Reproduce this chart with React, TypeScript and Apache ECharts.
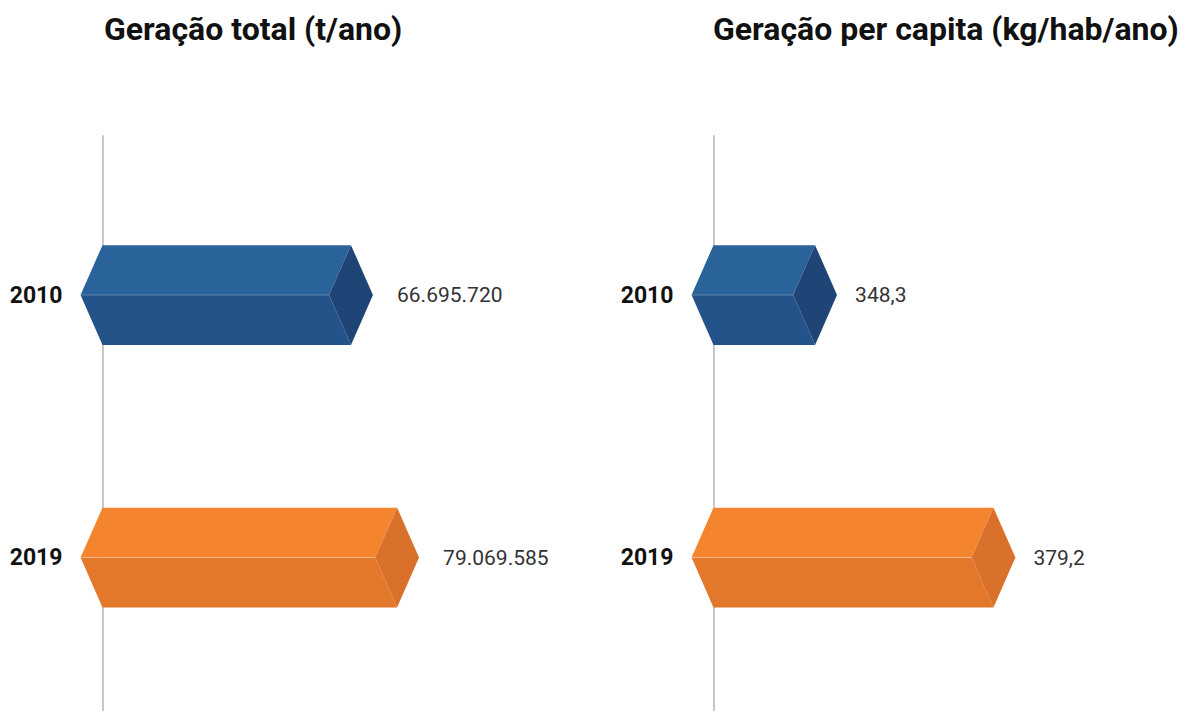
import React, { useEffect, useRef } from 'react';
import * as echarts from 'echarts';

const years = ['2010', '2019'];
const totalValues = [66695720, 79069585];
const perCapitaValues = [348.3, 379.2];
const titles = ['Geração total (t/ano)', 'Geração per capita (kg/hab/ano)'];

const FONT = 'Roboto, "Noto Sans", sans-serif';
const palette = [
  { top: '#29639a', bottom: '#245389', side: '#1f4577' },
  { top: '#f5842f', bottom: '#e3772a', side: '#d9712b' },
];

function fmtTotal(v: number): string {
  return String(Math.round(v)).replace(/\B(?=(\d{3})+(?!\d))/g, '.');
}
function fmtPer(v: number): string {
  return v.toFixed(1).replace('.', ',');
}

function makeRenderItem(labelFmt: (v: number) => string, labelGap: number) {
  return (params: any, api: any) => {
    const val = api.value(0);
    const idx = api.value(1);
    const x0 = params.coordSys.x;
    const p = api.coord([val, idx]);
    const xe = p[0];
    const ym = p[1];
    const band = api.size([0, 1])[1];
    const h = band * 0.19;
    const d = h * 0.44;
    const c = palette[params.dataIndex];
    return {
      type: 'group',
      children: [
        {
          type: 'polygon',
          shape: { points: [[x0, ym - h], [xe, ym - h], [xe - d, ym], [x0 - d, ym]] },
          style: { fill: c.top },
        },
        {
          type: 'polygon',
          shape: { points: [[x0 - d, ym], [xe - d, ym], [xe, ym + h], [x0, ym + h]] },
          style: { fill: c.bottom },
        },
        {
          type: 'polygon',
          shape: { points: [[xe, ym - h], [xe + d, ym], [xe, ym + h], [xe - d, ym]] },
          style: { fill: c.side },
        },
        {
          type: 'line',
          shape: { x1: x0 - d, y1: ym, x2: xe - d, y2: ym },
          style: { stroke: 'rgba(255,255,255,0.25)', lineWidth: 1 },
        },
        {
          type: 'text',
          x: xe + labelGap,
          y: ym,
          style: {
            text: labelFmt(val),
            fill: '#333333',
            fontSize: 21,
            fontFamily: FONT,
            align: 'left',
            verticalAlign: 'middle',
          },
        },
      ],
    };
  };
}

const yearAxis = (gridIndex: number) => ({
  gridIndex,
  type: 'category',
  data: years,
  inverse: true,
  axisLine: { show: false },
  axisTick: { show: false },
  splitLine: { show: false },
  axisLabel: {
    margin: 40,
    fontSize: 23,
    fontWeight: 'bold',
    color: '#111111',
    fontFamily: FONT,
  },
});

const lineAxis = (gridIndex: number) => ({
  gridIndex,
  type: 'value',
  axisLine: { show: true, onZero: false, lineStyle: { color: '#c8c8c8', width: 2 } },
  axisTick: { show: false },
  axisLabel: { show: false },
  splitLine: { show: false },
});

export default function App() {
  const ref = useRef<HTMLDivElement>(null);
  useEffect(() => {
    if (!ref.current) return;
    const chart = echarts.init(ref.current, undefined, { renderer: 'svg' });
    chart.setOption({
      animation: false,
      backgroundColor: '#ffffff',
      title: titles.map((t, i) => ({
        text: t,
        left: i === 0 ? 104 : 713,
        top: 13,
        padding: 0,
        textStyle: { fontSize: 32, fontWeight: 'bold', color: '#111111', fontFamily: FONT },
      })),
      grid: [
        { left: 102.5, width: 372.6, top: 163.75, height: 525 },
        { left: 713.5, width: 400, top: 163.75, height: 525 },
        { left: 102.5, width: 10, top: 136, bottom: 0 },
        { left: 713.5, width: 10, top: 136, bottom: 0 },
      ],
      xAxis: [
        { gridIndex: 0, type: 'value', min: 0, max: 100000000, show: false },
        { gridIndex: 1, type: 'value', min: 330.7, max: 400, show: false },
        { gridIndex: 2, type: 'value', show: false },
        { gridIndex: 3, type: 'value', show: false },
      ],
      yAxis: [yearAxis(0), yearAxis(1), lineAxis(2), lineAxis(3)],
      series: [
        {
          type: 'custom',
          xAxisIndex: 0,
          yAxisIndex: 0,
          renderItem: makeRenderItem(fmtTotal, 46),
          encode: { x: 0, y: 1 },
          data: totalValues.map((v, i) => [v, i]),
          z: 3,
        },
        {
          type: 'custom',
          xAxisIndex: 1,
          yAxisIndex: 1,
          renderItem: makeRenderItem(fmtPer, 40),
          encode: { x: 0, y: 1 },
          data: perCapitaValues.map((v, i) => [v, i]),
          z: 3,
        },
      ],
    });
    return () => chart.dispose();
  }, []);
  return (
    <div
      ref={ref}
      style={{ position: 'fixed', left: 0, top: 0, width: 1181, height: 711, background: '#fff' }}
    />
  );
}
